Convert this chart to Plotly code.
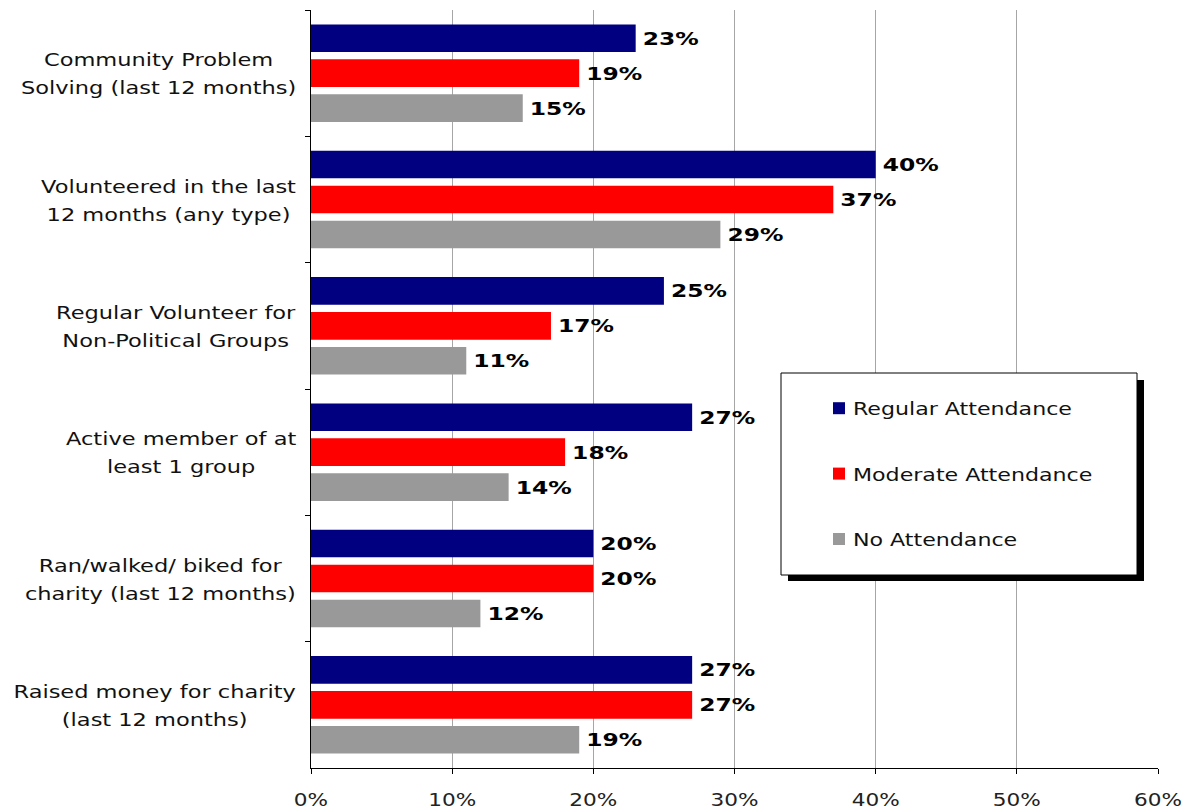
import plotly.graph_objects as go

categories = [
    "Community Problem<br>Solving (last 12 months)",
    "Volunteered in the last<br>12 months (any type)",
    "Regular Volunteer for<br>Non-Political Groups",
    "Active member of at<br>least 1 group",
    "Ran/walked/ biked for<br>charity (last 12 months)",
    "Raised money for charity<br>(last 12 months)",
]
series_names = ["Regular Attendance", "Moderate Attendance", "No Attendance"]
regular = [23, 40, 25, 27, 20, 27]
moderate = [19, 37, 17, 18, 20, 27]
no_att = [15, 29, 11, 14, 12, 19]
series_values = [regular, moderate, no_att]
series_colors = ["#000080", "#FF0000", "#999999"]
x_ticks = [0, 10, 20, 30, 40, 50, 60]

FONT = "DejaVu Sans"

fig = go.Figure()
for name, vals, col in zip(series_names, series_values, series_colors):
    fig.add_trace(go.Bar(
        y=categories, x=vals, name=name, orientation="h",
        marker=dict(color=col, line=dict(width=0)),
        text=[f"{v}%" for v in vals], textposition="outside",
        textfont=dict(family=FONT, size=18, color="#000000", weight="bold"),
        constraintext="none", cliponaxis=False, legendgroup=name,
        hoverinfo="skip",
    ))

# plot area geometry (pixels) used to place the legend frame in paper units
L, R, T, B = 311, 1158, 10, 768
W, H = R - L, B - T
def px(x):
    return (x - L) / W
def py(y):
    return (B - y) / H

annotations = []
for c in categories:
    annotations.append(dict(
        x=0, xref="paper", xanchor="right", xshift=-13,
        y=c, yref="y", yanchor="middle",
        text=c, align="center", showarrow=False,
        font=dict(family=FONT, size=18, color="#111111"),
    ))

shapes = [
    dict(type="rect", xref="paper", yref="paper", layer="above",
         x0=px(788), x1=px(1144), y0=py(581), y1=py(380),
         fillcolor="#000000", line=dict(width=0)),
    dict(type="rect", xref="paper", yref="paper", layer="above",
         x0=px(781), x1=px(1137), y0=py(575), y1=py(373),
         fillcolor="#FFFFFF", line=dict(color="#000000", width=1)),
]

fig.update_layout(
    width=1194, height=811,
    margin=dict(l=L, r=1194 - R, t=T, b=811 - B, pad=0, autoexpand=False),
    paper_bgcolor="#FFFFFF", plot_bgcolor="#FFFFFF",
    barmode="group", bargap=0.17, bargroupgap=0.21,
    showlegend=True,
    legend=dict(
        x=px(819), y=py(390), xanchor="left", yanchor="top",
        bgcolor="rgba(0,0,0,0)", borderwidth=0,
        font=dict(family=FONT, size=18, color="#111111"),
        traceorder="grouped", tracegroupgap=39,
    ),
    xaxis=dict(
        range=[0, 60], tickvals=x_ticks, ticktext=[f"{t}%" for t in x_ticks],
        showgrid=True, gridcolor="#A6A6A6", gridwidth=1, zeroline=False,
        showline=True, linecolor="#000000", linewidth=1,
        ticks="outside", ticklen=5, tickcolor="#000000", tickwidth=1,
        ticklabelstandoff=10, automargin=False,
        tickfont=dict(family=FONT, size=18, color="#222222"),
        fixedrange=True,
    ),
    yaxis=dict(
        categoryorder="array", categoryarray=categories,
        range=[len(categories) - 0.5, -0.5],
        showgrid=False, zeroline=False, showticklabels=False,
        showline=True, linecolor="#000000", linewidth=1,
        ticks="outside", ticklen=5, tickcolor="#000000", tickwidth=1,
        tickson="boundaries", fixedrange=True, automargin=False,
    ),
    annotations=annotations,
    shapes=shapes,
)

# The reference's text is horizontally stretched; reproduce that with a
# horizontal scale on each text element around its anchor edge.
post = r"""
(function(){
  document.body.style.margin = '0';
  var gd = document.getElementById('{plot_id}');
  function adj(t, s, mode, extra, lh){
    if (t.getAttribute('data-sx')) return;
    t.setAttribute('data-sx', '1');
    var b0 = t.getBBox();
    if (lh) {
      var lines = t.querySelectorAll('tspan.line');
      for (var i = 0; i < lines.length; i++) lines[i].setAttribute('dy', (i * lh) + 'px');
    }
    var b1 = t.getBBox();
    var dy = lh ? (b0.y + b0.height / 2) - (b1.y + b1.height / 2) : 0;
    var ax = mode === 'left' ? b1.x : (mode === 'right' ? b1.x + b1.width : b1.x + b1.width / 2);
    var tr = t.getAttribute('transform') || '';
    t.setAttribute('transform', tr + ' translate(' + (ax * (1 - s) + (extra || 0)) + ',' + dy + ') scale(' + s + ',1)');
  }
  function fix(){
    try {
      gd.querySelectorAll('.legend [clip-path]').forEach(function(e){ e.removeAttribute('clip-path'); });
      gd.querySelectorAll('.annotation-text').forEach(function(t){ adj(t, 1.25, 'right', 0, 28); });
      gd.querySelectorAll('.legendtext').forEach(function(t){ adj(t, 1.23, 'left', -6, 0); });
      gd.querySelectorAll('.bartext').forEach(function(t){ adj(t, 1.3, 'left', 4, 0); });
      gd.querySelectorAll('.xtick text').forEach(function(t){ adj(t, 1.2, 'center', 0, 0); });
    } catch(e) { console.log(e); }
  }
  fix();
  if (gd.on) gd.on('plotly_afterplot', fix);
})();
"""

fig.write_html("out.html", post_script=post, config={"displayModeBar": False})
